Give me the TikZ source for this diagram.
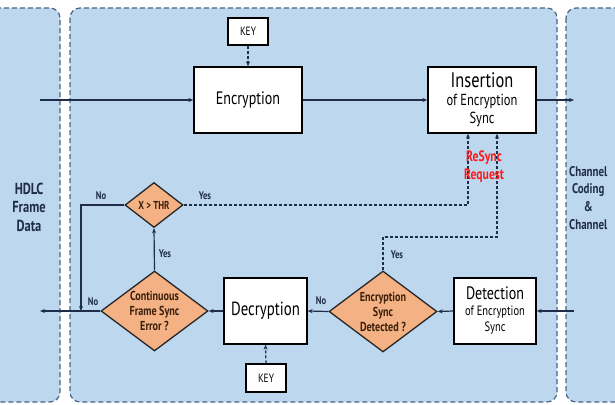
\documentclass[tikz,border=0pt]{standalone}
\usepackage{fontspec}
\setmainfont{PT Sans}[FakeStretch=0.78]
\usetikzlibrary{shapes.geometric,arrows.meta,calc}
\definecolor{panelfill}{HTML}{BDD7EE}
\definecolor{paneldash}{HTML}{4A6584}
\definecolor{dfill}{HTML}{F4B183}
\definecolor{navy}{HTML}{1F2D4A}
\definecolor{dtxt}{HTML}{3A200C}
\definecolor{req}{HTML}{FF1A1A}
\begin{document}
\begin{tikzpicture}[x=1pt,y=-1pt,
  panel/.style={draw=paneldash,fill=panelfill,line width=1.2pt,dash pattern=on 5pt off 3pt,rounded corners=10pt},
  box/.style={draw=black,fill=white,line width=1.3pt,inner sep=0pt,align=center},
  dia/.style={diamond,draw=black!85,fill=dfill,line width=1.3pt,inner sep=0pt},
  dtext/.style={align=center,text=dtxt,font=\bfseries\fontsize{13}{15}\selectfont},
  conn/.style={draw=navy,line width=1.2pt,-{Stealth[length=5pt,width=4pt]}},
  dconn/.style={conn,dash pattern=on 3pt off 2pt},
  lab/.style={text=navy,font=\bfseries\fontsize{11}{12}\selectfont,inner sep=0pt},
  side/.style={text=navy,align=center,font=\bfseries\fontsize{16}{18.5}\selectfont}]
\useasboundingbox (0,0) rectangle (615,404);
\fill[white] (0,0) rectangle (615,404);
% panels
\path[panel] (-20,8) rectangle (60,402);
\path[panel] (70,8) rectangle (557,402);
\path[panel] (566,8) rectangle (650,402);
% side texts
\node[side] (hdlc) at (29,207) {HDLC\\Frame\\Data};
\node[side,font=\bfseries\fontsize{14}{17.7}\selectfont,anchor=north west,inner sep=0pt] (chan) at (569,166) {Channel\\Coding\\\&\\Channel};
% boxes
\node[box,minimum width=40pt,minimum height=27pt,font=\fontsize{12}{12}\selectfont] (key1) at (248,31.5) {KEY};
\node[box,minimum width=108pt,minimum height=66pt,font=\fontsize{18}{18}\selectfont] (enc) at (248,100) {Encryption};
\node[box,minimum width=108pt,minimum height=66pt,font=\fontsize{16}{18}\selectfont] (ins) at (482,100) {{\fontsize{21}{21}\selectfont Insertion}\\of Encryption\\Sync};
\node[box,minimum width=83pt,minimum height=66pt,font=\fontsize{19}{19}\selectfont] (dec) at (265.5,311) {Decryption};
\node[box,minimum width=82pt,minimum height=66pt,font=\fontsize{13.5}{16}\selectfont] (det) at (495,311) {{\fontsize{18}{18}\selectfont Detection}\\of Encryption\\Sync};
\node[box,minimum width=40pt,minimum height=28pt,font=\fontsize{12}{12}\selectfont] (key2) at (266,378) {KEY};
% diamonds
\node[dia,minimum width=58pt,minimum height=45pt] (thr) at (154,205) {};
\node[dtext,font=\bfseries\fontsize{11.5}{12}\selectfont] (thrt) at (thr) {X > THR};
\node[dia,minimum width=107pt,minimum height=80pt] (cont) at (154.5,311) {};
\node[dtext] (contt) at (cont) {Continuous\\Frame Sync\\Error ?};
\node[dia,minimum width=108pt,minimum height=81pt] (esd) at (383,311.5) {};
\node[dtext] (esdt) at (esd) {Encryption\\Sync\\Detected ?};
% coordinates
\coordinate (inL) at (40,100);
\coordinate (outR) at (574,100);
\coordinate (inR) at (574,311);
\coordinate (outL) at (40,311);
\coordinate (j) at (81,311);
% connectors
\draw[conn] (inL) -- (enc.west);
\draw[conn] (enc.east) -- (ins.west);
\draw[conn] (ins.east) -- (outR);
\draw[dconn] (key1.south) -- (enc.north);
\draw[dconn] (key2.north) -- (dec.south);
\draw[conn] (inR) -- (det.east);
\draw[conn] (det.west) -- (esd.east);
\draw[conn] (esd.west) -- (dec.east);
\draw[conn] (dec.west) -- (cont.east);
\draw[conn] (cont.west) -- (outL);
\draw[conn] (cont.north) -- (thr.south);
\draw[conn] (thr.west) -| (j);
\draw[dconn] (thr.east) -| ($(ins.south)+(-14,0)$);
\draw[dconn] (esd.north) |- (497,237) -- ($(ins.south)+(15,0)$);
% labels
\node[lab] (l1) at (101,196) {No};
\node[lab] (l2) at (205,196) {Yes};
\node[lab] (l3) at (165,254) {Yes};
\node[lab] (l4) at (93,302) {No};
\node[lab] (l5) at (321,301) {No};
\node[lab] (l6) at (397,255) {Yes};
\node[text=req,align=center,font=\bfseries\fontsize{15}{18}\selectfont] (rr) at (484,167) {ReSync\\Request};
\end{tikzpicture}
\end{document}
